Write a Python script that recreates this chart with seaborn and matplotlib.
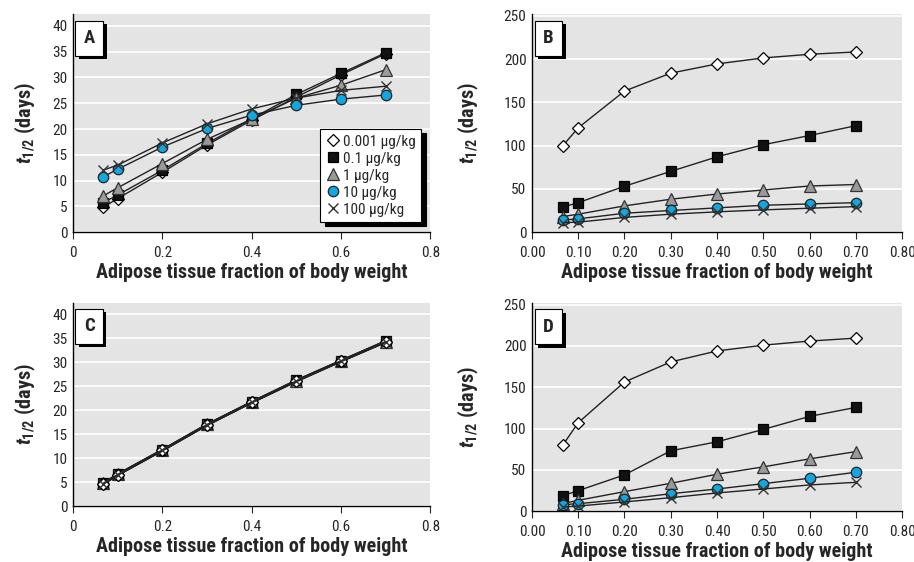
import numpy as np
import pandas as pd
import matplotlib
matplotlib.use("Agg")
import matplotlib.pyplot as plt
import matplotlib.patheffects as pe
from matplotlib import font_manager
from matplotlib.lines import Line2D
import seaborn as sns

# fraction of body weight (x)
fat = [0.067, 0.1, 0.2, 0.3, 0.4, 0.5, 0.6, 0.7]
doses = ["0.001 μg/kg", "0.1 μg/kg", "1 μg/kg", "10 μg/kg", "100 μg/kg"]

# panel A
a_0001 = [4.8, 6.5, 11.6, 16.9, 21.7, 26.2, 30.5, 34.6]
a_01 = [5.7, 7.2, 12.0, 17.2, 22.0, 26.7, 30.8, 34.8]
a_1 = [7.0, 8.6, 13.3, 18.0, 21.9, 26.0, 28.5, 31.5]
a_10 = [10.7, 12.2, 16.5, 20.1, 22.7, 24.6, 25.8, 26.6]
a_100 = [12.0, 13.0, 17.3, 21.0, 23.9, 26.0, 27.5, 28.3]

# panel B
b_0001 = [100, 120.5, 163, 183.7, 194.4, 201.3, 205.5, 208.2]
b_01 = [29, 34, 53, 70.2, 87, 101, 111.6, 123]
b_1 = [18, 20.7, 30.3, 38, 44, 48.7, 53.3, 55]
b_10 = [14, 15.3, 21.8, 25, 28, 31, 32.6, 34]
b_100 = [11, 11.5, 17, 20.7, 23.4, 25.7, 27.6, 29.5]

# panel C (all doses overlap)
c_0001 = [4.6, 6.5, 11.6, 16.9, 21.7, 26.1, 30.3, 34.3]
c_01 = [4.7, 6.6, 11.7, 17.0, 21.7, 26.2, 30.3, 34.4]
c_1 = [4.7, 6.6, 11.7, 17.0, 21.6, 26.1, 30.2, 34.3]
c_10 = [4.6, 6.5, 11.6, 16.9, 21.6, 26.1, 30.2, 34.2]
c_100 = [4.6, 6.5, 11.6, 16.9, 21.6, 26.0, 30.2, 34.2]

# panel D
d_0001 = [80.2, 107, 156.4, 180.7, 194, 201, 206, 209.5]
d_01 = [18.6, 24.7, 43.8, 73, 83.9, 98.9, 114.7, 125.6]
d_1 = [9, 13, 23.5, 33.6, 44.6, 53.5, 63.2, 72]
d_10 = [7.7, 8.9, 14.2, 21, 26.7, 33.2, 39.7, 47]
d_100 = [4.9, 6, 11, 16.2, 21.9, 26.7, 31.6, 34.8]

panels = {
    "A": [a_0001, a_01, a_1, a_10, a_100],
    "B": [b_0001, b_01, b_1, b_10, b_100],
    "C": [c_0001, c_01, c_1, c_10, c_100],
    "D": [d_0001, d_01, d_1, d_10, d_100],
}

sns.set_style("white", {"axes.facecolor": "#e4e4e4", "axes.edgecolor": "black",
                        "grid.color": "white", "axes.grid": True})

names = {f.name for f in font_manager.fontManager.ttflist}
fam = "DejaVu Sans"
for f in ["Liberation Sans Narrow", "Roboto Condensed", "DejaVu Sans Condensed", "Liberation Sans"]:
    if f in names:
        fam = f
        break
plt.rcParams["font.family"] = [fam, "DejaVu Sans"]
plt.rcParams["mathtext.fontset"] = "custom"
plt.rcParams["mathtext.it"] = fam + ":italic:bold"
plt.rcParams["mathtext.rm"] = fam + ":bold"
plt.rcParams["mathtext.bf"] = fam + ":bold"


def styles():
    return [
        dict(marker="D", ms=6.5, mfc="white", mec="black", mew=0.9),
        dict(marker="s", ms=6.5, mfc="#111111", mec="black", mew=0.9),
        dict(marker="^", ms=8.5, mfc="#9a9a9a", mec="#333333", mew=0.9),
        dict(marker="o", ms=7.5, mfc="#12a7e0", mec="#222222", mew=0.9),
        dict(marker="x", ms=7, mfc="none", mec="#333333", mew=1.0),
    ]


fig = plt.figure(figsize=(9.14, 5.62), dpi=100)
pos = {
    "A": [0.0799, 0.587, 0.391, 0.388],
    "B": [0.582, 0.587, 0.405, 0.388],
    "C": [0.0799, 0.0996, 0.391, 0.361],
    "D": [0.582, 0.0907, 0.405, 0.370],
}

for key, series in panels.items():
    ax = fig.add_axes(pos[key])
    order = [0, 1, 2, 3, 4]
    if key == "C":
        order = [3, 2, 1, 0, 4]
    st_list = styles()
    for i in order:
        df = pd.DataFrame({"x": fat, "y": series[i]})
        sns.lineplot(data=df, x="x", y="y", ax=ax, color="#222222",
                     lw=1.6 if key == "C" else 1.0, **st_list[i])
    ax.set_xlim(0, 0.8)
    if key in "BD":
        ax.set_xticks([0, 0.1, 0.2, 0.3, 0.4, 0.5, 0.6, 0.7, 0.8])
        ax.set_xticklabels(["0.00", "0.10", "0.20", "0.30", "0.40", "0.50", "0.60", "0.70", "0.80"])
        ax.set_ylim(0, 252)
        ax.set_yticks([0, 50, 100, 150, 200, 250])
        ylpad = 16
    else:
        ax.set_xticks([0, 0.2, 0.4, 0.6, 0.8])
        ax.set_xticklabels(["0", "0.2", "0.4", "0.6", "0.8"])
        ax.set_ylim(0, 42.3)
        ax.set_yticks(range(0, 45, 5))
        ylpad = 10
    ax.grid(axis="x", visible=False)
    ax.grid(axis="y", color="white", lw=1.2)
    for s in ["top", "right"]:
        ax.spines[s].set_visible(False)
    ax.spines["left"].set_linewidth(1.0)
    ax.spines["bottom"].set_linewidth(1.0)
    ax.tick_params(axis="x", length=5, width=0.8, direction="out", labelsize=11, pad=5, bottom=True)
    ax.tick_params(axis="y", length=0, labelsize=11, pad=4)
    ax.set_xlabel("Adipose tissue fraction of body weight", fontsize=14.5, fontweight="bold", labelpad=2)
    ax.set_ylabel(r"$t_{\rm 1/2}$ (days)", fontsize=14.5, fontweight="bold", labelpad=ylpad)

    t = ax.text(0.03, 0.93, key, transform=ax.transAxes, fontsize=13.5, fontweight="bold",
                ha="left", va="top",
                bbox=dict(boxstyle="square,pad=0.45", fc="white", ec="black", lw=0.8))
    t.get_bbox_patch().set_path_effects([
        pe.SimplePatchShadow(offset=(2.5, -2.5), shadow_rgbFace="black", alpha=1.0),
        pe.Normal()])

    if key == "A":
        handles = [Line2D([], [], ls="none", **st) for st in styles()]
        leg = ax.legend(handles, doses, loc="lower right", bbox_to_anchor=(0.975, 0.046),
                        fontsize=11, frameon=True, fancybox=False, handletextpad=0.15,
                        handlelength=1.0, borderpad=0.35, labelspacing=0.2, borderaxespad=0,
                        shadow={"color": "black", "alpha": 1.0, "ox": 3, "oy": -3})
        leg.get_frame().set_edgecolor("black")
        leg.get_frame().set_linewidth(0.8)
        leg.get_frame().set_facecolor("white")
        leg.get_frame().set_alpha(1.0)
    else:
        if ax.get_legend() is not None:
            ax.get_legend().remove()

fig.savefig("out.png", dpi=100)
